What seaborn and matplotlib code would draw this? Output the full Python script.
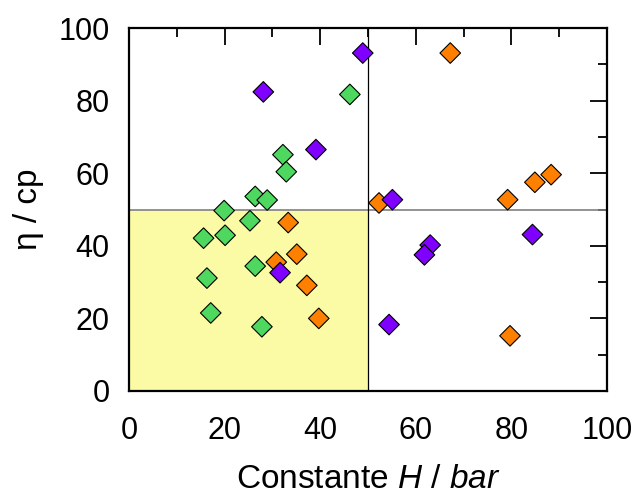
import matplotlib
matplotlib.use("Agg")
import matplotlib.pyplot as plt
import seaborn as sns
import pandas as pd
from matplotlib.ticker import MultipleLocator

# Henry constant (bar) vs. viscosity (cp), three groups of compounds
green_h = [19.9, 25.3, 15.6, 20.1, 26.4, 16.3, 17.1, 27.8, 46.2, 32.2, 32.9, 26.4, 28.9]
green_eta = [49.7, 46.9, 42.1, 42.9, 34.4, 31.1, 21.5, 17.7, 81.7, 65.1, 60.4, 53.6, 52.6]

orange_h = [33.3, 35.1, 30.8, 37.2, 39.7, 52.3, 67.2, 79.2, 84.9, 88.3, 79.7]
orange_eta = [46.4, 37.7, 35.5, 29.1, 20.0, 51.8, 93.1, 52.7, 57.5, 59.6, 15.2]

purple_h = [31.6, 48.9, 28.1, 39.1, 55.1, 84.4, 63.0, 61.8, 54.4]
purple_eta = [32.6, 93.1, 82.4, 66.5, 52.7, 43.1, 40.2, 37.5, 18.3]

groups = ["A", "B", "C"]
palette = {"A": "#4fd860", "B": "#ff8000", "C": "#8000ff"}

df = pd.concat([
    pd.DataFrame({"H": green_h, "eta": green_eta, "grupo": "A"}),
    pd.DataFrame({"H": orange_h, "eta": orange_eta, "grupo": "B"}),
    pd.DataFrame({"H": purple_h, "eta": purple_eta, "grupo": "C"}),
], ignore_index=True)

sns.set_style("white")
plt.rcParams["font.family"] = ["Liberation Sans", "DejaVu Sans"]
plt.rcParams["mathtext.fontset"] = "custom"
plt.rcParams["mathtext.rm"] = "Liberation Sans"
plt.rcParams["mathtext.it"] = "Liberation Sans:italic"
plt.rcParams["text.color"] = "black"
plt.rcParams["axes.labelcolor"] = "black"
plt.rcParams["xtick.color"] = "black"
plt.rcParams["ytick.color"] = "black"

fig = plt.figure(figsize=(6.37, 5.0), dpi=100)
ax = fig.add_axes([0.2025, 0.218, 0.7505, 0.726])

# highlighted region: low H and low viscosity
ax.fill_between([0, 50], 0, 50, color="#fbfba5", zorder=0, linewidth=0)
ax.axhline(50, color="#808080", linewidth=1.2, zorder=1)
ax.axvline(50, color="black", linewidth=0.9, zorder=1)

sns.scatterplot(data=df, x="H", y="eta", hue="grupo", hue_order=groups,
                palette=palette, marker="D", s=110, edgecolor="black",
                linewidth=0.8, legend=False, ax=ax, zorder=3)

ax.set_xlim(0, 100)
ax.set_ylim(0, 100)
ax.xaxis.set_major_locator(MultipleLocator(20))
ax.xaxis.set_minor_locator(MultipleLocator(10))
ax.yaxis.set_major_locator(MultipleLocator(20))
ax.yaxis.set_minor_locator(MultipleLocator(10))

for sp in ax.spines.values():
    sp.set_linewidth(1.6)
    sp.set_color("black")
    sp.set_zorder(4)

ax.tick_params(which="both", direction="in", top=True, right=True,
               color="black", labelcolor="black", width=1.3)
ax.tick_params(which="major", length=12, labelsize=22)
ax.tick_params(axis="x", which="major", pad=18)
ax.tick_params(axis="y", which="major", pad=14)
ax.tick_params(which="minor", length=6.5)

ax.set_xlabel(r"Constante $\mathit{H\ /\ bar}$", fontsize=24, labelpad=13)
ax.set_ylabel("η / cp", fontsize=24, labelpad=10)

fig.savefig("out.png", dpi=100)
